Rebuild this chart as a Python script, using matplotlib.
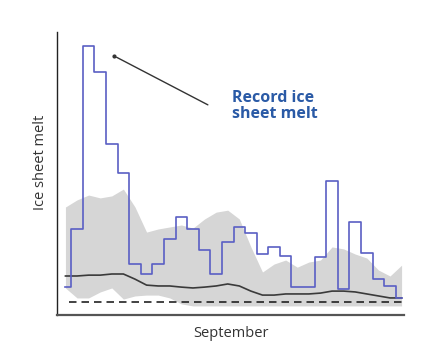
import numpy as np
import matplotlib
matplotlib.use("Agg")
import matplotlib.pyplot as plt

# day of September
days = np.arange(1, 31)

# daily melt extent (arbitrary units)
melt_2012 = [9.8, 30.2, 94.4, 85.3, 60.0, 49.8, 17.9, 14.4, 17.9, 26.7,
             34.4, 30.2, 22.8, 14.4, 25.6, 30.9, 28.8, 21.4, 23.9, 20.7,
             9.8, 9.8, 20.4, 47.0, 9.1, 32.6, 21.8, 12.6, 10.2, 6.0]

# climatology: mean and spread
clim_mean = [13.7, 13.7, 14.0, 14.0, 14.4, 14.4, 12.6, 10.5, 10.2, 10.2,
             9.8, 9.5, 9.8, 10.2, 10.9, 10.2, 8.4, 7.0, 7.0, 7.4,
             7.4, 7.4, 7.7, 8.4, 8.4, 8.1, 7.4, 6.7, 6.0, 6.0]
clim_upper = [37.9, 40.4, 42.1, 41.1, 41.8, 44.2, 37.9, 29.1, 30.2, 30.9,
              31.6, 30.5, 33.7, 36.1, 36.8, 33.7, 23.9, 15.1, 17.9, 19.3,
              16.8, 18.6, 19.3, 23.9, 23.2, 21.4, 20.0, 15.8, 13.7, 17.5]
clim_lower = [9.5, 6.0, 6.0, 8.1, 9.5, 5.6, 6.7, 7.0, 7.0, 6.0,
              3.9, 3.2, 3.2, 3.2, 3.2, 3.2, 3.2, 3.2, 3.2, 3.2,
              3.2, 3.2, 3.2, 3.2, 3.2, 3.2, 3.2, 3.2, 3.2, 3.2]
baseline = 4.4

fig = plt.figure(figsize=(4.4, 3.52), dpi=100)
ax = fig.add_axes([0.1295, 0.105, 0.789, 0.804])

ax.fill_between(days, clim_lower, clim_upper, color="#d6d6d6", lw=0, zorder=1)
ax.plot(days, clim_mean, color="#3a3a3a", lw=1.2, zorder=2)
ax.hlines(baseline, 1.3, 30, colors="#222222", linestyles=(0, (4.5, 3)), lw=1.2, zorder=2)
ax.step(days, melt_2012, where="mid", color="#5a5fc4", lw=1.2, zorder=3)

ax.set_xlim(0.27, 30.22)
ax.set_ylim(0, 99.3)
ax.set_xticks([])
ax.set_yticks([])
for s in ["top", "right"]:
    ax.spines[s].set_visible(False)
ax.spines["left"].set_color("#222222")
ax.spines["left"].set_linewidth(1.0)
ax.spines["bottom"].set_color("#555555")
ax.spines["bottom"].set_linewidth(1.6)

ax.set_xlabel("September", fontsize=10.5, family="Open Sans", color="#333333")
ax.xaxis.set_label_coords(0.5, -0.038)
ax.set_ylabel("Ice sheet melt", fontsize=10.5, family="Open Sans", color="#333333")
ax.yaxis.set_label_coords(-0.026, 0.54)

# pointer to the record peak
ax.annotate("", xy=(5.2, 90.9), xytext=(13.5, 73.3),
            arrowprops=dict(arrowstyle="-", color="#333333", lw=1.0))
ax.plot([5.2], [90.9], "o", color="#333333", ms=2, zorder=4)
ax.text(15.4, 79.0, "Record ice\nsheet melt", fontsize=11.5, fontweight="bold",
        family="Open Sans", color="#2a5aa6", va="top", ha="left", linespacing=1.05)

fig.savefig("out.png", dpi=100)
